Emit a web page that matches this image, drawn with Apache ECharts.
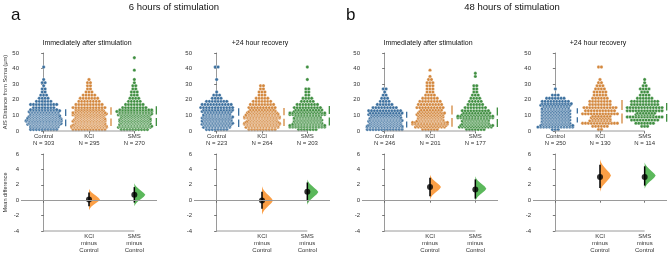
<!DOCTYPE html>
<html>
<head>
<meta charset="utf-8">
<script src="https://cdn.jsdelivr.net/npm/echarts@6/dist/echarts.min.js"></script>
<style>
  html, body { margin: 0; background: #fff; }
  #chart { width: 669px; height: 254px; }
</style>
</head>
<body>
<div id="chart"></div>
<script>
// ---- data ----
const groups = ['Control', 'KCl', 'SMS'];
const contrasts = ['KCl\nminus\nControl', 'SMS\nminus\nControl'];
const blockTitles = ['6 hours of stimulation', '48 hours of stimulation'];
const panelTitles = ['Immediately after stimulation', '+24 hour recovery', 'Immediately after stimulation', '+24 hour recovery'];
const sampleSizes = [[303, 295, 270], [223, 264, 203], [246, 201, 177], [250, 130, 114]];

// AIS distance counts in 2 µm bins (0-2, 2-4, 4-6 ...), per panel, per group
const binsA1 = [
  [10,40,46,50,45,40,32,8,10,6,4,3,2,2,1,2,1,0,0,0,1],
  [12,38,42,45,40,36,30,12,10,8,7,5,3,2,2,2,1],
  [10,35,42,44,40,35,25,9,7,5,4,3,3,2,2,1,1,0,0,1,0,0,0,1]
];
const binsA2 = [
  [8,28,32,31,32,28,22,12,11,8,4,3,1,0,0,0,1,0,0,0,2],
  [10,34,38,41,38,34,28,10,9,7,5,3,3,2,2],
  [7,26,31,30,28,26,20,10,8,5,4,2,2,2,0,0,1,0,0,0,1]
];
const binsB1 = [
  [13,38,44,46,42,24,12,9,6,4,3,2,1,2],
  [6,22,26,28,27,20,16,10,9,8,6,4,3,3,3,3,2,1,0,1],
  [7,24,28,28,26,20,10,8,6,5,4,3,2,2,2,0,0,1,1]
];
const binsB2 = [
  [3,25,30,30,30,30,30,28,22,10,7,3,0,1],
  [2,6,13,15,14,13,11,12,8,8,6,5,5,4,3,2,1,0,0,0,2],
  [0,3,7,10,13,14,13,13,10,10,6,4,3,4,2,1,1]
];
const swarmBins = [binsA1, binsA2, binsB1, binsB2];

// group mean and standard deviation (gapped lines beside each swarm)
const groupMeans = [[8.5, 9.2, 9.5], [8.6, 9.0, 9.8], [7.3, 9.5, 8.8], [10.0, 12.3, 12.0]];
const groupSDs = [[5.5, 6.0, 6.3], [6.0, 5.8, 6.2], [5.0, 6.8, 6.2], [4.6, 7.5, 6.0]];

// mean differences vs Control with 95% CI and bootstrap extent
const diffMeans = [[0.1, 0.7], [-0.05, 1.1], [1.7, 1.4], [3.0, 3.0]];
const diffLow = [[-0.8, -0.3], [-1.1, -0.1], [0.5, 0.2], [1.6, 1.9]];
const diffHigh = [[1.0, 1.7], [1.1, 2.3], [2.9, 2.7], [4.6, 4.4]];
const bootLow = [[-1.3, -0.8], [-1.9, -0.6], [0.1, -0.1], [1.1, 1.5]];
const bootHigh = [[1.5, 2.2], [1.8, 2.7], [3.3, 3.1], [5.3, 4.9]];
// relative width of the bootstrap curve from low to high end
const violinProfile = [0, 0.08, 0.22, 0.42, 0.64, 0.86, 1, 0.86, 0.64, 0.42, 0.22, 0.08, 0];

// ---- look ----
const swarmColors = ['#3b6f9e', '#d3873d', '#3f8e40'];
const violinColors = ['#fb9a3c', '#52b452'];
const PANEL_LEFT = [21, 194, 362, 533];
const PANEL_WIDTH = [136, 136, 136, 134];
const FONT = 'Liberation Sans';
const BIN = 2;
const DOT_R = 1.7;
const DOT_GAP = 2.9;
const ROW_CAP = 13;
const SD_OFFSET = 22;
const VIOLIN_W = 11;

function swarmPoints(allCounts) {
  const pts = [];
  allCounts.forEach((counts, g) => {
    counts.forEach((n, b) => {
      if (!n) return;
      const rows = Math.ceil(n / ROW_CAP);
      let left = n;
      for (let r = 0; r < rows; r++) {
        const m = Math.ceil(left / (rows - r));
        left -= m;
        const y = b * BIN + (r + 0.5) * BIN / rows;
        const shift = (r % 2 && m < ROW_CAP) ? DOT_GAP / 2 : 0;
        const half = (ROW_CAP - 1) / 2 * DOT_GAP;
        for (let i = 0; i < m; i++) {
          let dx = (i - (m - 1) / 2) * DOT_GAP + shift;
          dx = Math.max(-half, Math.min(half, dx));
          pts.push([g, y, dx]);
        }
      }
    });
  });
  return pts;
}

const axisLineStyle = { show: true, lineStyle: { color: '#9a9a9a', width: 1 } };
const tickStyle = { show: true, length: 2.5, lineStyle: { color: '#555', width: 0.8 } };
const labelStyle = { fontSize: 6, color: '#333', margin: 2, fontFamily: FONT };

const grids = [], xAxes = [], yAxes = [], series = [], graphics = [];

for (let p = 0; p < 4; p++) {
  const ti = 2 * p, bi = 2 * p + 1;
  grids.push({ left: PANEL_LEFT[p], width: PANEL_WIDTH[p], top: 53, height: 78 });
  grids.push({ left: PANEL_LEFT[p], width: PANEL_WIDTH[p], top: 154, height: 77 });

  xAxes.push({
    gridIndex: ti, type: 'value', min: -0.5, max: 2.5,
    axisLine: { show: false }, splitLine: { show: false },
    axisTick: Object.assign({ customValues: [0, 1, 2] }, tickStyle),
    axisLabel: Object.assign({}, labelStyle, {
      customValues: [0, 1, 2], lineHeight: 7,
      formatter: v => groups[v] + '\nN = ' + sampleSizes[p][v]
    })
  });
  xAxes.push({
    gridIndex: bi, type: 'value', min: -0.5, max: 2.5,
    axisLine: { show: false }, splitLine: { show: false },
    axisTick: Object.assign({ customValues: [0, 1, 2] }, tickStyle),
    axisLabel: Object.assign({}, labelStyle, {
      customValues: [0, 1, 2], lineHeight: 7,
      formatter: v => v === 0 ? '' : contrasts[v - 1]
    })
  });

  yAxes.push({
    gridIndex: ti, type: 'value', min: 0, max: 50, interval: 10,
    axisLine: axisLineStyle, axisTick: tickStyle, axisLabel: labelStyle, splitLine: { show: false },
    name: p === 0 ? 'AIS Distance from Soma (µm)' : '',
    nameLocation: 'middle', nameGap: 13, nameRotate: 90,
    nameTextStyle: { fontSize: 5.6, color: '#333', fontFamily: FONT }
  });
  yAxes.push({
    gridIndex: bi, type: 'value', min: -4, max: 6, interval: 2,
    axisLine: axisLineStyle, axisTick: tickStyle, axisLabel: labelStyle, splitLine: { show: false },
    name: p === 0 ? 'Mean difference' : '',
    nameLocation: 'middle', nameGap: 13, nameRotate: 90,
    nameTextStyle: { fontSize: 5.6, color: '#333', fontFamily: FONT }
  });

  // swarm of observations
  series.push({
    type: 'custom', xAxisIndex: ti, yAxisIndex: ti, silent: true,
    data: swarmPoints(swarmBins[p]),
    renderItem: (params, api) => {
      const c = api.coord([api.value(0), api.value(1)]);
      return {
        type: 'circle',
        shape: { cx: c[0] + api.value(2), cy: c[1], r: DOT_R },
        style: { fill: swarmColors[api.value(0)], stroke: '#fff', lineWidth: 0.35 }
      };
    }
  });

  // mean ± sd gapped lines
  series.push({
    type: 'custom', xAxisIndex: ti, yAxisIndex: ti, silent: true,
    data: groups.map((g, i) => [i, groupMeans[p][i], groupSDs[p][i]]),
    renderItem: (params, api) => {
      const g = api.value(0), m = api.value(1), s = api.value(2);
      const x = api.coord([g, 0])[0] + SD_OFFSET;
      const yT = api.coord([g, m + s])[1], yM = api.coord([g, m])[1], yB = api.coord([g, m - s])[1];
      const st = { stroke: swarmColors[g], lineWidth: 1.3 };
      return {
        type: 'group', children: [
          { type: 'line', shape: { x1: x, y1: yT, x2: x, y2: yM - 1.8 }, style: st },
          { type: 'line', shape: { x1: x, y1: yM + 1.8, x2: x, y2: yB }, style: st }
        ]
      };
    }
  });

  // bottom spine of swarm plot, Control to last group
  series.push({
    type: 'line', xAxisIndex: ti, yAxisIndex: ti, silent: true, clip: false, symbol: 'none',
    lineStyle: { color: '#9a9a9a', width: 1 },
    data: [[0, 0], [groups.length - 1, 0]]
  });

  // bootstrap half-violins + zero line
  series.push({
    type: 'custom', xAxisIndex: bi, yAxisIndex: bi, silent: true,
    data: contrasts.map((c, i) => [i + 1, bootLow[p][i], bootHigh[p][i]]),
    renderItem: (params, api) => {
      const g = api.value(0), lo = api.value(1), hi = api.value(2);
      const x0 = api.coord([g, lo])[0];
      const n = violinProfile.length;
      const pts = violinProfile.map((w, k) => {
        const y = api.coord([g, lo + (hi - lo) * k / (n - 1)])[1];
        return [x0 + VIOLIN_W * w, y];
      });
      pts.push([x0, api.coord([g, hi])[1]]);
      pts.push([x0, api.coord([g, lo])[1]]);
      return {
        type: 'polygon', shape: { points: pts },
        style: { fill: violinColors[g - 1], opacity: 0.95 }
      };
    },
    markLine: {
      silent: true, symbol: 'none', label: { show: false },
      lineStyle: { color: '#9a9a9a', width: 1, type: 'solid' },
      data: [{ yAxis: 0 }]
    }
  });

  // 95% CI
  series.push({
    type: 'custom', xAxisIndex: bi, yAxisIndex: bi, silent: true,
    data: contrasts.map((c, i) => [i + 1, diffLow[p][i], diffHigh[p][i]]),
    renderItem: (params, api) => {
      const a = api.coord([api.value(0), api.value(1)]);
      const b = api.coord([api.value(0), api.value(2)]);
      return { type: 'line', shape: { x1: a[0], y1: a[1], x2: b[0], y2: b[1] }, style: { stroke: '#000', lineWidth: 1.5 } };
    }
  });

  // mean difference dots
  series.push({
    type: 'scatter', xAxisIndex: bi, yAxisIndex: bi, silent: true,
    symbolSize: 6, itemStyle: { color: '#000' },
    data: contrasts.map((c, i) => [i + 1, diffMeans[p][i]])
  });

  // bottom spine of difference plot
  series.push({
    type: 'line', xAxisIndex: bi, yAxisIndex: bi, silent: true, clip: false, symbol: 'none',
    lineStyle: { color: '#9a9a9a', width: 1 },
    data: [[0, -4], [groups.length - 1, -4]]
  });

  graphics.push({
    type: 'text', x: PANEL_LEFT[p] + PANEL_WIDTH[p] / 2 - 2, y: 43,
    style: { text: panelTitles[p], fontSize: 7, fill: '#111', fontFamily: FONT, textAlign: 'center', textVerticalAlign: 'middle' }
  });
}

graphics.push(
  { type: 'text', x: 11, y: 15, style: { text: 'a', fontSize: 17, fill: '#111', fontFamily: FONT, textVerticalAlign: 'middle' } },
  { type: 'text', x: 346, y: 15, style: { text: 'b', fontSize: 17, fill: '#111', fontFamily: FONT, textVerticalAlign: 'middle' } },
  { type: 'text', x: 174, y: 7, style: { text: blockTitles[0], fontSize: 9.5, fill: '#111', fontFamily: FONT, textAlign: 'center', textVerticalAlign: 'middle' } },
  { type: 'text', x: 512, y: 7, style: { text: blockTitles[1], fontSize: 9.5, fill: '#111', fontFamily: FONT, textAlign: 'center', textVerticalAlign: 'middle' } }
);

const chart = echarts.init(document.getElementById('chart'));
chart.setOption({
  animation: false,
  textStyle: { fontFamily: FONT },
  grid: grids,
  xAxis: xAxes,
  yAxis: yAxes,
  graphic: graphics,
  series: series
});
</script>
</body>
</html>
